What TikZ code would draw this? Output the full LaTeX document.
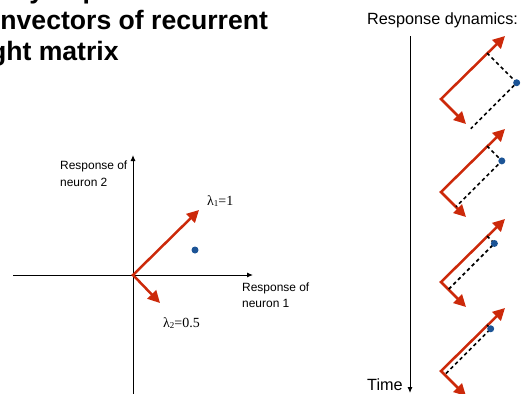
\documentclass[tikz,border=0pt]{standalone}
\usepackage{fontspec}
\setmainfont{Liberation Sans}
\newfontfamily\greekserif{Liberation Serif}
\usetikzlibrary{arrows.meta,calc}

\definecolor{vecred}{RGB}{204,41,10}
\definecolor{dotblue}{RGB}{28,84,150}

\begin{document}
\begin{tikzpicture}[x=1bp,y=-1bp,
  axis/.style={line width=1bp,-{Latex[length=6bp,width=5bp]}},
  eigpair/.style={vecred,line width=2.5bp,line join=miter,
    {Triangle[length=12bp,width=12bp]}-{Triangle[length=12bp,width=12bp]}},
  proj/.style={line width=1.6bp,dash pattern=on 3.5bp off 3bp},
  state/.style={circle,fill=dotblue,inner sep=0pt,minimum size=7bp},
  lbl/.style={inner sep=0pt,anchor=base west,font=\fontsize{12}{14}\selectfont},
  biglbl/.style={inner sep=0pt,anchor=base west,font=\fontsize{16.3}{19}\selectfont},
  lam/.style={inner sep=0pt,anchor=base west,font=\greekserif\fontsize{14}{16}\selectfont},
  headline/.style={inner sep=0pt,anchor=base west,font=\bfseries\fontsize{26.7}{31}\selectfont}
]
\useasboundingbox (0,0) rectangle (527,393);
\clip (0,0) rectangle (527,393);

% heading
\node[headline] (h1) at (-52,-2) {Activity depends on};
\node[headline] (h2) at (-53,29) {eigenvectors of recurrent};
\node[headline] (h3) at (-53,60) {weight matrix};

% state space of the two neurons
\coordinate (o)  at (133,275);
\coordinate (xl) at (13,275);
\coordinate (xr) at (253,275);
\coordinate (yb) at (133,395);
\coordinate (yt) at (133,155);
\draw[axis] (xl) -- (xr);
\draw[axis] (yb) -- (yt);
\coordinate (e1) at (199,210);
\coordinate (e2) at (160,303);
\draw[eigpair] (e1) -- (o) -- (e2);
\node[state] (x0) at (195,250) {};

\node[lbl] (ry1) at (60,169) {Response of};
\node[lbl] (ry2) at (60,186) {neuron 2};
\node[lbl] (rx1) at (242,291) {Response of};
\node[lbl] (rx2) at (242,307) {neuron 1};
\node[lam] (l1) at (207,205) {λ\raisebox{-1.5bp}{\fontsize{9}{9}\selectfont 1}=1};
\node[lam] (l2) at (163,327) {λ\raisebox{-1.5bp}{\fontsize{9}{9}\selectfont 2}=0.5};

% response over time
\node[biglbl] (rd) at (367,24) {Response dynamics:};
\coordinate (tt) at (410,36);
\coordinate (tb) at (410,393);
\draw[axis] (tt) -- (tb);
\node[biglbl] (tl) at (367,390) {Time};

\foreach \k/\cy/\b in {1/99/42,2/192/21,3/282/10.5,4/371/5.25}{
  \coordinate (c\k) at (441,\cy);
  \coordinate (l\k) at ($(c\k)+(64,-63)$);
  \coordinate (s\k) at ($(c\k)+(25,25)$);
  \coordinate (p\k) at ($(c\k)+({0.7071*65},{-0.7071*65})$);
  \coordinate (q\k) at ($(c\k)+({0.7071*\b},{0.7071*\b})$);
  \coordinate (d\k) at ($(p\k)+({0.7071*\b},{0.7071*\b})$);
  \draw[eigpair] (l\k) -- (c\k) -- (s\k);
  \draw[proj] (p\k) -- (d\k) -- (q\k);
  \node[state] (n\k) at (d\k) {};
}
\end{tikzpicture}
\end{document}
